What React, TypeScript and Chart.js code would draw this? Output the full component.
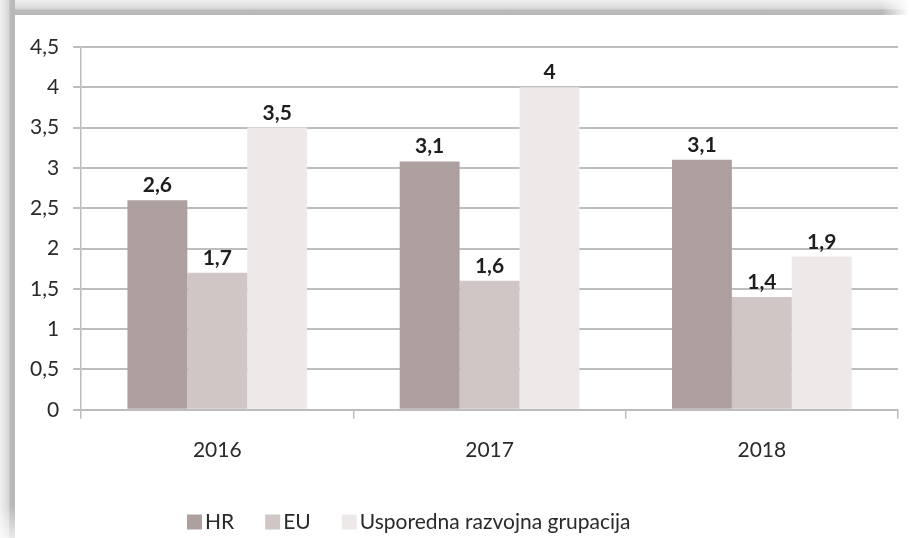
import React, { useEffect, useRef } from "react";
import { Chart, registerables } from "chart.js";

Chart.register(...registerables);

const categories = ["2016", "2017", "2018"];
const seriesNames = ["HR", "EU", "Usporedna razvojna grupacija"];
const hrValues = [2.6, 3.08, 3.1];
const euValues = [1.7, 1.6, 1.4];
const urgValues = [3.5, 4, 1.9];
const seriesColors = ["#afa0a0", "#cfc6c5", "#ede9e9"];
const yMin = 0;
const yMax = 4.5;
const yStep = 0.5;

const FONT = "Lato, 'Open Sans', sans-serif";
const TEXT = "#2a2a2a";
const GRID = "#bdbdbd";

const fmt = (v: number) => {
  const r = Math.round(v * 10) / 10;
  return String(r).replace(".", ",");
};

const valueLabels = {
  id: "valueLabels",
  afterDatasetsDraw(chart: any) {
    const ctx = chart.ctx;
    ctx.save();
    ctx.font = `bold 21px ${FONT}`;
    ctx.fillStyle = "#1e1e1e";
    ctx.textAlign = "center";
    ctx.textBaseline = "alphabetic";
    chart.data.datasets.forEach((ds: any, di: number) => {
      const meta = chart.getDatasetMeta(di);
      meta.data.forEach((bar: any, i: number) => {
        ctx.fillText(fmt(ds.data[i]), bar.x, bar.y - 8);
      });
    });
    ctx.restore();
  },
};

const customLegend = {
  id: "customLegend",
  afterDraw(chart: any) {
    const ctx = chart.ctx;
    ctx.save();
    ctx.font = `21px ${FONT}`;
    ctx.textBaseline = "middle";
    ctx.textAlign = "left";
    let x = 172;
    const yc = chart.height - 16;
    chart.data.datasets.forEach((ds: any) => {
      ctx.fillStyle = ds.backgroundColor;
      ctx.fillRect(x, yc - 7.5, 15, 15);
      x += 18;
      ctx.fillStyle = TEXT;
      ctx.fillText(ds.label, x, yc);
      x += ctx.measureText(ds.label).width + 31;
    });
    ctx.restore();
  },
};

export default function App() {
  const ref = useRef<HTMLCanvasElement>(null);
  useEffect(() => {
    if (!ref.current) return;
    const chart = new Chart(ref.current, {
      type: "bar",
      data: {
        labels: categories,
        datasets: [
          { label: seriesNames[0], data: hrValues, backgroundColor: seriesColors[0] },
          { label: seriesNames[1], data: euValues, backgroundColor: seriesColors[1] },
          { label: seriesNames[2], data: urgValues, backgroundColor: seriesColors[2] },
        ],
      },
      options: {
        responsive: false,
        animation: false,
        layout: { padding: { left: 1, right: 11, top: 32, bottom: 56 } },
        datasets: { bar: { categoryPercentage: 0.66, barPercentage: 1 } },
        plugins: { legend: { display: false }, tooltip: { enabled: false } },
        scales: {
          x: {
            grid: {
              offset: true,
              drawOnChartArea: false,
              drawTicks: true,
              tickLength: 9,
              color: GRID,
              lineWidth: 1.5,
            },
            border: { color: GRID, width: 2 },
            ticks: { color: TEXT, font: { family: FONT, size: 21 }, padding: 19 },
          },
          y: {
            min: yMin,
            max: yMax,
            ticks: {
              stepSize: yStep,
              color: TEXT,
              font: { family: FONT, size: 21 },
              padding: 14,
              callback: (v: any) => fmt(Number(v)),
            },
            grid: { color: GRID, lineWidth: 2, tickLength: 8, drawTicks: true },
            border: { color: GRID, width: 1.5 },
          },
        },
      },
      plugins: [valueLabels, customLegend],
    });
    return () => chart.destroy();
  }, []);

  return (
    <div
      style={{
        position: "fixed",
        left: 0,
        top: 0,
        width: 909,
        height: 538,
        background: "#ffffff",
        overflow: "hidden",
      }}
    >
      <div
        style={{
          position: "absolute",
          left: 0,
          top: 0,
          width: 909,
          height: 15,
          background:
            "linear-gradient(to bottom, #f0f0f0 0px, #e6e6e6 4px, #d6d6d6 9px, #bababa 10px, #b8b8b8 15px)",
          WebkitMaskImage: "linear-gradient(to right, #000 97%, transparent 100%)",
        }}
      />
      <div
        style={{
          position: "absolute",
          left: 0,
          top: 0,
          width: 15,
          height: 538,
          background:
            "linear-gradient(to right, #f0f0f0 0px, #e6e6e6 4px, #d6d6d6 9px, #bababa 10px, #b8b8b8 15px)",
          WebkitMaskImage: "linear-gradient(to bottom, #000 94%, rgba(0,0,0,0.3) 100%)",
        }}
      />
      <canvas
        ref={ref}
        width={894}
        height={523}
        style={{ position: "absolute", left: 15, top: 15, width: 894, height: 523 }}
      />
    </div>
  );
}
